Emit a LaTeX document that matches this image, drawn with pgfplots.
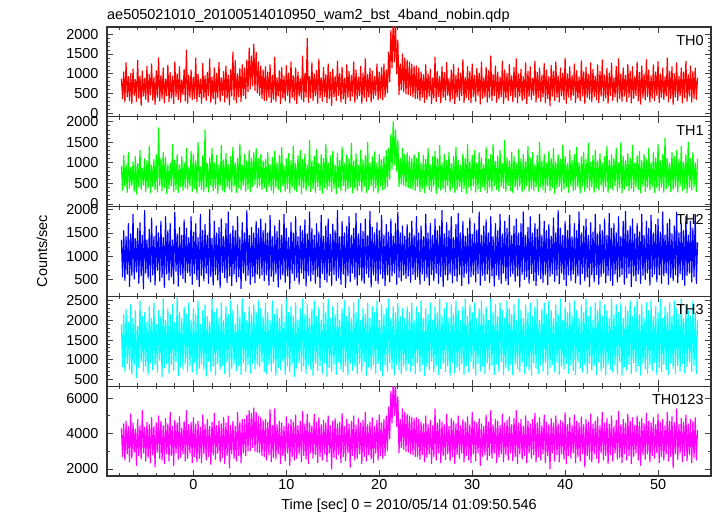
\documentclass[border=0pt]{standalone}
\usepackage{pgfplots}
\usepackage{pgfplotstable}
\pgfplotsset{compat=1.18}
\usepackage{fontspec}
\setmainfont{Liberation Sans}
\definecolor{qred}{RGB}{255,0,0}
\definecolor{qgreen}{RGB}{0,255,0}
\definecolor{qblue}{RGB}{0,0,255}
\definecolor{qcyan}{RGB}{0,255,255}
\definecolor{qmag}{RGB}{255,0,255}

\pgfplotstableread{
t a b c d e
-7.75 880 920 1350 1900 4300
-7.625 380 330 560 820 2700
-7.5 1050 1180 1550 2150 4550
-7.375 290 420 480 700 2500
-7.25 1280 960 1420 2280 4700
-7.125 420 280 620 900 2850
-7.0 930 1250 1700 1950 4400
-6.875 330 380 350 760 2400
-6.75 1010 890 1480 2400 5100
-6.625 250 450 590 620 2600
-6.5 1120 1020 1900 2050 4600
-6.375 460 310 510 880 2950
-6.25 860 1150 1380 2250 4250
-6.125 310 240 660 540 2200
-6.0 1340 980 1600 1850 4800
-5.875 390 410 420 790 2750
-5.75 950 1300 1720 2500 4450
-5.625 200 350 580 950 2550
-5.5 1070 870 1450 2100 5300
-5.375 440 460 300 700 2900
-5.25 890 1100 1980 2200 4350
-5.125 360 300 640 830 2450
-5.0 1190 1050 1350 1950 4650
-4.875 280 390 530 610 2650
-4.75 980 1400 1580 2350 4500
-4.625 470 270 450 920 2350
-4.5 1250 940 1820 2050 4900
-4.375 340 430 600 740 2800
-4.25 910 1080 1420 2450 4400
-4.125 230 340 380 860 2100
-4.0 1080 1200 1650 1900 4600
-3.875 410 290 700 680 2950
-3.75 1400 1850 1500 2250 5000
-3.625 320 450 470 980 2600
-3.5 960 1100 1750 2100 4700
-3.375 380 320 550 560 2500
-3.25 1150 1250 1400 2550 4450
-3.125 270 400 330 800 2300
-3.0 870 1130 1850 2000 4850
-2.875 450 260 620 900 2850
-2.75 1220 950 1550 2300 4550
-2.625 300 370 490 650 2450
-2.5 1030 990 1700 2150 5200
-2.375 390 440 560 870 2750
-2.25 940 1450 1350 2400 4400
-2.125 250 300 410 720 2200
-2.0 1300 1070 1950 1950 4750
-1.875 430 350 680 940 2900
-1.75 1000 1200 1480 2600 4600
-1.625 350 280 360 590 2550
-1.5 1180 940 1620 2200 4950
-1.375 290 420 600 810 2650
-1.25 850 1150 1450 2050 4300
-1.125 480 330 520 760 2850
-1.0 1120 1000 1780 2350 4700
-0.875 320 400 440 900 2450
-0.75 1600 1350 1600 2150 5300
-0.625 260 360 650 700 2600
-0.5 970 880 1400 2450 4500
-0.375 410 440 580 850 2900
-0.25 1100 1280 1850 2000 4650
-0.125 350 310 400 680 2350
0.0 920 1200 1520 2300 4900
0.125 380 380 630 920 2700
0.25 1400 1050 1700 2150 4550
0.375 300 270 500 620 2400
0.5 990 1500 1400 2500 4700
0.625 420 430 350 780 2600
0.75 870 900 1900 1900 4350
0.875 260 350 590 880 2350
1.0 1260 1170 1550 2250 5050
1.125 400 300 470 740 2850
1.25 950 1800 1680 2400 4500
1.375 330 410 640 580 2500
1.5 1040 980 1450 2100 4800
1.625 450 290 420 960 2700
1.75 1380 1120 2000 1950 4400
1.875 280 450 560 690 2250
2.0 920 1350 1380 2550 4650
2.125 370 320 380 830 2800
2.25 1150 1000 1750 2200 5150
2.375 240 380 610 600 2550
2.5 1020 1180 1500 2300 4450
2.625 410 260 490 910 2900
2.75 1290 950 1620 2050 4700
2.875 310 440 320 750 2400
3.0 900 1420 1800 2450 4550
3.125 460 330 650 860 2650
3.25 1060 1070 1420 2000 4900
3.375 290 290 540 640 2300
3.5 1200 1230 1700 2350 4600
3.625 380 410 430 920 2750
3.75 970 960 1950 2150 5000
3.875 220 360 580 560 2050
4.0 1110 1150 1480 2500 4450
4.125 440 300 370 780 2850
4.25 1550 1380 1650 2250 4700
4.375 350 430 620 890 2600
4.5 1330 1000 1550 1900 4400
4.625 270 280 450 710 2450
4.75 1000 1110 1850 2400 5200
4.875 420 390 560 840 2750
5.0 1140 1460 1400 2100 4650
5.125 300 340 310 620 2350
5.25 1230 940 1720 2550 4800
5.375 450 450 640 930 2900
5.5 1150 1210 1500 2200 4800
5.625 380 310 480 700 2750
5.75 1350 1050 1980 2000 5050
5.875 550 370 590 870 3000
6.0 1650 1300 1450 2350 5300
6.125 620 290 400 650 3050
6.25 1450 1120 1620 2150 5150
6.375 700 420 560 900 3200
6.5 1750 1250 1500 2400 5450
6.625 580 480 430 760 3000
6.75 1550 1350 1750 2200 5200
6.875 520 400 620 880 2950
7.0 1300 1100 1600 2500 5000
7.125 450 450 530 820 2900
7.25 1200 1200 1800 2300 4900
7.375 380 350 600 950 2750
7.5 1100 1050 1550 2100 4750
7.625 330 400 480 700 2700
7.75 1180 1080 1700 2450 4800
7.875 330 300 600 640 2500
8.0 1050 1250 1500 2200 4650
8.125 410 420 380 880 2800
8.25 1230 960 1880 2000 5350
8.375 280 330 570 700 2400
8.5 970 1130 1420 2500 4450
8.625 360 260 460 910 2650
8.75 1420 1280 1650 2150 5400
8.875 300 400 620 590 2550
9.0 900 1010 1530 2300 4500
9.125 440 350 340 800 2850
9.25 1080 1190 1770 2050 4700
9.375 250 290 510 730 2300
9.5 1160 1370 1450 2400 4600
9.625 390 440 600 960 2750
9.75 940 920 1900 1950 4400
9.875 320 310 440 620 2450
10.0 1210 1100 1600 2550 4950
10.125 460 380 580 850 2900
10.25 1020 1230 1400 2200 4550
10.375 270 270 300 690 2200
10.5 1300 1050 1720 2350 4800
10.625 410 410 630 900 2700
10.75 950 1400 1500 2100 4650
10.875 340 340 480 570 2500
11.0 1150 980 1850 2450 5050
11.125 250 300 550 780 2600
11.25 1050 1180 1420 2000 4450
11.375 440 430 400 920 2850
11.5 880 1300 1650 2300 4700
11.625 360 250 640 700 2400
11.75 1450 1080 1550 2550 5250
11.875 300 390 520 830 2750
12.0 1010 1210 1780 2150 4550
12.125 420 320 360 640 2550
12.25 1900 950 1480 2400 5100
12.375 280 440 590 880 2300
12.5 930 1550 1950 2050 4600
12.625 390 300 470 760 2900
12.75 1280 1050 1600 2300 4450
12.875 330 370 610 600 2600
13.0 1000 1160 1450 2500 5100
13.125 450 280 420 900 2800
13.25 1090 1320 1700 2100 4650
13.375 260 420 570 720 2350
13.5 1370 990 1520 2350 4900
13.625 400 330 330 840 2700
13.75 900 1200 1880 2000 4500
13.875 310 260 630 650 2500
14.0 1160 1100 1430 2450 4750
14.125 430 400 500 920 2850
14.25 980 1450 1650 2200 4600
14.375 270 350 450 570 2400
14.5 1250 1000 1800 2550 5000
14.625 380 430 590 790 2900
14.75 1040 1170 1470 2050 4450
14.875 200 300 370 700 2000
15.0 1120 1280 1690 2350 4700
15.125 420 380 610 880 2650
15.25 940 950 1550 2150 4850
15.375 330 250 480 620 2550
15.5 1320 1230 1980 2450 4550
15.625 460 410 540 940 2800
15.75 1010 1060 1420 2000 4650
15.875 290 320 400 750 2350
16.0 1170 1380 1750 2300 5150
16.125 370 440 620 680 2700
16.25 890 980 1500 2500 4400
16.375 250 290 330 850 2450
16.5 1230 1190 1640 2100 4800
16.625 410 360 580 600 2900
16.75 1060 1100 1850 2350 4550
16.875 320 410 460 910 2100
17.0 960 1480 1450 2050 4700
17.125 440 270 640 720 2750
17.25 1300 1040 1600 2450 5000
17.375 280 380 510 830 2500
17.5 1100 1220 1920 2200 4450
17.625 370 320 380 640 2600
17.75 920 940 1480 2550 4850
17.875 450 450 600 890 2850
18.0 1190 1300 1700 2000 4600
18.125 260 300 470 700 2300
18.25 1020 1070 1530 2300 4750
18.375 400 420 420 950 2700
18.5 1380 1180 1800 2150 5200
18.625 310 280 630 600 2450
18.75 980 1500 1440 2450 4500
18.875 420 350 550 810 2800
19.0 1140 1000 1960 2050 4650
19.125 290 440 340 740 2550
19.25 1070 1150 1620 2350 4900
19.375 380 310 600 870 2350
19.5 930 1270 1500 2200 4400
19.625 460 390 480 650 2900
19.75 1250 990 1720 2500 4750
19.875 340 270 410 900 2500
20.0 1040 1200 1550 2000 5050
20.125 390 430 620 720 2750
20.25 1160 1080 1880 2400 4600
20.375 350 340 530 580 2600
20.5 1250 1150 1450 2150 4800
20.625 420 360 370 860 2750
20.75 1100 1300 1680 2300 5000
20.875 520 420 600 690 3050
21.0 1550 1350 1520 2550 5500
21.125 800 600 450 920 3700
21.25 2100 1700 1800 2050 6400
21.375 1150 850 580 770 4600
21.5 2400 2000 1430 2350 7000
21.625 1300 950 640 610 5000
21.75 2300 1800 1700 2200 6800
21.875 1000 800 400 880 4400
22.0 1850 1550 1950 2450 6100
22.125 480 420 550 730 2900
22.25 1250 1100 1500 2100 4800
22.375 600 480 470 640 3200
22.5 1500 1350 1650 2300 5400
22.625 550 450 600 850 3100
22.75 1400 1200 1430 2050 5200
22.875 500 420 520 720 3000
23.0 1350 1250 1680 2350 5100
23.125 480 400 580 900 2950
23.25 1300 1150 1500 2200 5000
23.375 450 380 440 700 2850
23.5 1250 1100 1750 2450 4900
23.625 420 360 610 850 2800
23.75 1200 1200 1450 2000 4850
23.875 380 330 500 640 2700
24.0 1200 1100 1850 2350 4900
24.125 380 420 560 920 2700
24.25 1150 1250 1500 2200 4800
24.375 330 300 400 700 2550
24.5 1050 1000 1650 2500 4650
24.625 410 380 620 880 2800
24.75 980 1180 1420 2050 4550
24.875 280 270 480 600 2400
25.0 1230 1080 1900 2300 5000
25.125 360 420 550 820 2650
25.25 1000 1350 1500 2150 4500
25.375 440 340 380 740 2850
25.5 1120 950 1700 2450 4750
25.625 250 300 610 950 2300
25.75 900 1150 1450 2000 4450
25.875 390 440 470 680 2700
26.0 1420 1280 1800 2350 5400
26.125 300 260 640 860 2500
26.25 1060 1100 1550 2200 4600
26.375 430 400 420 620 2900
26.5 940 1420 1650 2550 4800
26.625 270 330 560 770 2350
26.75 1180 1000 1980 2100 4650
26.875 410 370 350 900 2750
27.0 1030 1200 1480 2300 4500
27.125 340 290 600 700 2550
27.25 1290 1060 1720 2450 5100
27.375 460 450 490 840 2850
27.5 880 1250 1550 2050 4400
27.625 300 310 620 590 2450
27.75 1100 980 1850 2400 4850
27.875 380 400 430 930 2700
28.0 1240 1150 1400 2150 4700
28.125 250 280 580 660 2300
28.25 970 1380 1680 2500 4550
28.375 420 350 460 800 2800
28.5 1150 1050 1920 2250 5000
28.625 330 430 610 720 2600
28.75 1020 940 1500 2000 4450
28.875 450 300 370 890 2900
29.0 1360 1220 1750 2350 4800
29.125 280 380 550 610 2400
29.25 910 1100 1430 2550 4650
29.375 400 260 640 850 2750
29.5 1180 1450 1600 2100 4950
29.625 350 410 410 680 2500
29.75 1060 1030 1820 2400 4500
29.875 270 330 560 940 2350
30.0 1250 1180 1470 2200 5200
30.125 430 440 600 770 2850
30.25 960 1300 1700 2450 4700
30.375 310 290 450 600 2450
30.5 1140 1000 1560 2050 4600
30.625 460 370 630 900 2900
30.75 1020 1250 1950 2300 4850
30.875 240 300 380 700 2200
31.0 1300 1120 1450 2500 4550
31.125 380 420 590 830 2700
31.25 900 950 1650 2150 4400
31.375 420 340 480 640 2800
31.5 1170 1380 1780 2350 5050
31.625 290 270 620 910 2500
31.75 1080 1080 1500 2000 4650
31.875 400 400 440 730 2750
32.0 1450 1200 1850 2550 5300
32.125 330 310 580 860 2600
32.25 990 1450 1420 2200 4500
32.375 450 440 360 620 2900
32.5 1200 1040 1700 2400 4800
32.625 280 350 600 890 2350
32.75 1050 1170 1550 2100 4700
32.875 370 290 500 700 2650
33.0 920 1300 1900 2450 4450
33.125 420 420 420 940 2850
33.25 1320 990 1480 2250 5100
33.375 260 380 640 610 2400
33.5 1100 1550 1750 2050 4600
33.625 390 300 470 800 2800
33.75 1010 1120 1600 2500 4750
33.875 330 450 390 720 2500
34.0 1240 1050 1880 2300 4950
34.125 450 320 570 880 2900
34.25 950 1260 1440 2150 4500
34.375 300 270 620 600 2450
34.5 1160 1150 1650 2400 4850
34.625 410 410 460 900 2700
34.75 1380 980 1800 2000 5300
34.875 270 350 580 760 2300
35.0 1000 1320 1500 2550 4600
35.125 440 430 340 690 2850
35.25 1120 1090 1700 2250 4800
35.375 320 290 610 930 2550
35.5 930 1200 1950 2050 4400
35.625 380 360 500 650 2750
35.75 1280 1040 1450 2400 5000
35.875 250 440 560 830 2350
36.0 1060 1400 1620 2200 4700
36.125 430 300 420 720 2900
36.25 1180 1110 1850 2450 4550
36.375 350 380 630 600 2600
36.5 890 1250 1500 2100 4800
36.625 460 330 480 910 2800
36.75 1320 960 1700 2350 5150
36.875 290 410 370 780 2400
37.0 1040 1180 1580 2550 4600
37.125 400 290 600 640 2700
37.25 1150 1500 1900 2000 4900
37.375 310 420 520 860 2500
37.5 970 1050 1450 2300 4450
37.625 420 350 440 700 2850
37.75 1260 1200 1750 2450 5050
37.875 270 280 610 920 2350
38.0 1090 1000 1550 2150 4650
38.125 380 440 390 610 2750
38.25 930 1280 1680 2500 4500
38.375 200 320 570 800 2000
38.5 1210 1100 1430 2250 4850
38.625 440 400 620 880 2900
38.75 1070 1350 1820 2050 4600
38.875 330 260 460 690 2450
39.0 1300 1020 1500 2400 5000
39.125 410 380 590 940 2800
39.25 950 1200 1980 2150 4550
39.375 290 430 410 620 2400
39.5 1150 1080 1600 2550 4750
39.625 450 300 640 830 2850
39.75 1020 1430 1450 2000 4650
39.875 350 360 500 760 2550
40.0 1400 1150 1750 2350 5200
40.125 260 410 370 900 2300
40.25 1000 990 1550 2200 4500
40.375 420 280 600 650 2750
40.5 1180 1300 1880 2450 4900
40.625 340 440 480 860 2600
40.75 960 1060 1420 2100 4450
40.875 460 320 620 720 2900
41.0 1250 1200 1700 2500 5050
41.125 280 350 430 610 2350
41.25 1080 1380 1550 2250 4700
41.375 390 410 580 930 2700
41.5 920 1000 1950 2050 4600
41.625 320 270 400 780 2450
41.75 1330 1150 1500 2400 4950
41.875 440 430 630 680 2850
42.0 1050 1250 1650 2200 4500
42.125 250 300 470 870 2100
42.25 1170 1080 1800 2550 4800
42.375 410 390 560 640 2750
42.5 990 1480 1450 2100 4650
42.625 360 330 350 900 2550
42.75 1280 1020 1720 2350 5100
42.875 300 420 600 730 2400
43.0 1110 1180 1520 2000 4550
43.125 430 280 450 850 2850
43.25 940 1300 1900 2450 4700
43.375 350 400 610 620 2600
43.5 1230 1050 1480 2250 4950
43.625 280 340 400 940 2350
43.75 1060 1220 1680 2500 4450
43.875 440 450 570 700 2900
44.0 1350 990 1550 2100 5200
44.125 320 300 640 800 2500
44.25 970 1150 1800 2400 4600
44.375 400 420 430 610 2750
44.5 1140 1400 1450 2250 4850
44.625 260 280 590 900 2300
44.75 1020 1060 1920 2050 4550
44.875 450 390 480 750 2800
45.0 1270 1200 1600 2550 5000
45.125 330 350 380 680 2450
45.25 900 1100 1700 2150 4400
45.375 420 440 620 870 2900
45.5 1190 1350 1500 2400 4750
45.625 290 310 450 630 2550
45.75 1380 1000 1850 2200 5250
45.875 380 400 560 950 2650
46.0 1000 1500 1430 2450 4500
46.125 310 270 610 600 2350
46.25 1150 1150 1750 2050 4800
46.375 440 360 400 820 2850
46.5 960 1050 1960 2350 4600
46.625 300 440 540 730 2500
46.75 1240 1230 1550 2250 5100
46.875 410 320 630 880 2750
47.0 1070 1100 1650 2500 4700
47.125 270 380 350 640 2300
47.25 1180 1420 1800 2100 4900
47.375 380 300 580 910 2700
47.5 930 1000 1480 2350 4450
47.625 450 410 470 700 2900
47.75 1300 1180 1700 2550 5000
47.875 320 350 620 840 2500
48.0 1040 1270 1520 2150 4650
48.125 240 270 420 600 2200
48.25 1200 1050 1900 2400 4850
48.375 400 430 590 900 2800
48.5 990 1200 1450 2050 4550
48.625 340 300 500 760 2550
48.75 1360 1080 1750 2450 5150
48.875 430 410 640 650 2850
49.0 1100 1350 1600 2250 4700
49.125 290 340 380 870 2400
49.25 950 1000 1880 2500 4600
49.375 390 430 560 720 2750
49.5 1230 1250 1500 2100 4900
49.625 330 280 620 930 2600
49.75 1050 1120 1680 2350 4500
49.875 460 390 450 610 2900
50.0 1310 1450 1800 2200 5100
50.125 280 320 600 800 2350
50.25 1000 1050 1520 2550 4650
50.375 410 410 420 690 2700
50.5 1150 1200 1950 2050 4800
50.625 350 280 580 880 2500
50.75 920 1600 1450 2350 4450
50.875 440 370 640 740 2850
51.0 1400 1100 1700 2200 5200
51.125 300 440 400 620 2450
51.25 1060 1000 1800 2450 4700
51.375 380 300 550 910 2700
51.5 1180 1250 1480 2100 4950
51.625 230 350 470 770 2050
51.75 1000 1150 1650 2500 4600
51.875 420 410 600 640 2850
52.0 1280 1300 1950 2300 5400
52.125 330 290 430 850 2550
52.25 940 1080 1500 2150 4500
52.375 450 440 620 700 2900
52.5 1150 1400 1700 2550 4850
52.625 270 320 500 900 2400
52.75 1050 1020 1550 2050 4650
52.875 400 380 380 660 2750
53.0 1320 1200 1850 2400 5050
53.125 310 270 590 820 2450
53.25 980 1500 1450 2250 4550
53.375 440 400 640 940 2800
53.5 1200 1100 1750 2100 4800
53.625 290 340 450 700 2350
53.75 1060 1250 1600 2500 4700
53.875 380 420 560 850 2650
54.0 1150 1000 1900 2200 4900
54.125 350 300 420 640 2500
54.25 900 1100 1300 2000 4200
}\lc

\pgfplotsset{panel/.style={
  scale only axis, width=604bp, height=89.8bp, anchor=south west,
  xmin=-9.3, xmax=55.7, xtick={-10,0,...,50}, minor x tick num=4,
  tick align=inside, major tick length=6bp, minor tick length=3bp,
  tick style={black!75, line width=0.8bp},
  axis line style={black!80, line width=1.2bp},
  ticklabel style={font=\fontsize{14.5}{16}\selectfont},
  /pgf/number format/assume math mode=true,
  /pgf/number format/1000 sep={},
  yticklabel style={xshift=-5bp},
  every axis plot/.append style={line width=1.15bp, line join=round},
}}
\tikzset{thlabel/.style={anchor=north east, inner sep=0pt, font=\fontsize{14.5}{16}\selectfont}}

\begin{document}
\begin{tikzpicture}
\path[use as bounding box] (0bp,0bp) rectangle (717bp,516bp);

\begin{axis}[panel, at={(107bp,399.2bp)}, ymin=-80, ymax=2180, ytick={0,500,...,2000}, minor y tick num=4, xticklabels={}]
\addplot[qred] table[x=t, y=a] {\lc};
\node[thlabel] at (rel axis cs:0.988,0.91) {TH0};
\end{axis}

\begin{axis}[panel, at={(107bp,309.4bp)}, ymin=-65, ymax=2120, ytick={0,500,...,2000}, minor y tick num=4, xticklabels={}]
\addplot[qgreen] table[x=t, y=b] {\lc};
\node[thlabel] at (rel axis cs:0.988,0.91) {TH1};
\end{axis}

\begin{axis}[panel, at={(107bp,219.6bp)}, ymin=140, ymax=2065, ytick={500,1000,...,2000}, minor y tick num=4, xticklabels={}]
\addplot[qblue] table[x=t, y=c] {\lc};
\node[thlabel] at (rel axis cs:0.988,0.91) {TH2};
\end{axis}

\begin{axis}[panel, at={(107bp,129.8bp)}, ymin=320, ymax=2615, ytick={500,1000,...,2500}, minor y tick num=4, xticklabels={}]
\addplot[qcyan] table[x=t, y=d] {\lc};
\node[thlabel] at (rel axis cs:0.988,0.91) {TH3};
\end{axis}

\begin{axis}[panel, at={(107bp,40bp)}, ymin=1600, ymax=6680, ytick={2000,4000,6000}, minor y tick num=1]
\addplot[qmag] table[x=t, y=e] {\lc};
\node[thlabel] at (rel axis cs:0.988,0.91) {TH0123};
\end{axis}

\node[anchor=base west, inner sep=0pt, font=\fontsize{14.5}{16}\selectfont] at (107bp,496bp) {ae505021010\_20100514010950\_wam2\_bst\_4band\_nobin.qdp};
\node[rotate=90, inner sep=0pt, font=\fontsize{14.5}{16}\selectfont] at (42bp,265bp) {Counts/sec};
\node[inner sep=0pt, font=\fontsize{14.5}{16}\selectfont] at (409bp,10bp) {Time [sec] 0 = 2010/05/14 01:09:50.546};
\end{tikzpicture}
\end{document}
